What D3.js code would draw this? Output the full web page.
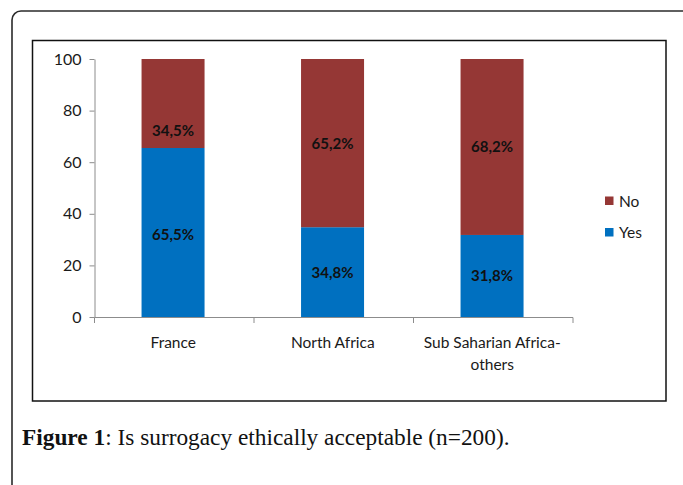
<!DOCTYPE html>
<html>
<head>
<meta charset="utf-8">
<script src="https://cdn.jsdelivr.net/npm/d3@7"></script>
<style>
  html, body { margin: 0; padding: 0; background: #fff; }
  svg { display: block; }
</style>
</head>
<body>
<svg id="chart" width="683" height="485"></svg>
<script>
// Survey answers by region of origin (percent of respondents)
const categories = ["France", "North Africa", "Sub Saharian Africa-others"];
const yesValues = [65.5, 34.8, 31.8];
const noValues = [34.5, 65.2, 68.2];
const yTicks = [0, 20, 40, 60, 80, 100];
const seriesNames = ["No", "Yes"];

const colors = { Yes: "#0070C0", No: "#953735" };
const font = "Lato, 'Open Sans', sans-serif";

const svg = d3.select("#chart");

// Outer page frame (rounded corner, runs off the right and bottom edges)
svg.append("rect")
  .attr("x", 12).attr("y", 11)
  .attr("width", 700).attr("height", 500)
  .attr("rx", 9).attr("ry", 9)
  .attr("fill", "none").attr("stroke", "#2b2b2b").attr("stroke-width", 1.6);

// Chart frame
svg.append("rect")
  .attr("x", 32.5).attr("y", 40.5)
  .attr("width", 633.5).attr("height", 360.5)
  .attr("fill", "#fff").attr("stroke", "#111").attr("stroke-width", 1.5);

const x = d3.scaleBand().domain(categories).range([94.5, 573]).padding(0);
const y = d3.scaleLinear().domain([0, 100]).range([317, 59]);
const barFrac = 0.395;

// Stacked data
const rows = categories.map((c, i) => ({ cat: c, Yes: yesValues[i], No: noValues[i] }));
const stack = d3.stack().keys(["Yes", "No"])(rows);

const g = svg.append("g");

stack.forEach(layer => {
  g.selectAll(null).data(layer).enter().append("rect")
    .attr("x", d => x(d.data.cat) + x.bandwidth() * (1 - barFrac) / 2 - 1.2)
    .attr("width", x.bandwidth() * barFrac)
    .attr("y", d => y(d[1]))
    .attr("height", d => y(d[0]) - y(d[1]))
    .attr("fill", colors[layer.key]);
});

// Y axis
const yAxis = d3.axisLeft(y).tickValues(yTicks).tickSize(5).tickSizeOuter(0).tickPadding(8);
const ya = svg.append("g").attr("transform", "translate(94.5,0)").call(yAxis);
ya.select(".domain").attr("stroke", "#8c8c8c");
ya.selectAll(".tick line").attr("stroke", "#8c8c8c");
ya.selectAll(".tick text")
  .attr("font-family", font).attr("font-size", 16).attr("fill", "#1a1a1a");

// X axis: baseline with ticks on band boundaries
svg.append("line")
  .attr("x1", x.range()[0]).attr("x2", x.range()[1])
  .attr("y1", y(0) + 0.5).attr("y2", y(0) + 0.5)
  .attr("stroke", "#8c8c8c");
const bounds = categories.map(c => x(c)).concat([x.range()[1]]);
svg.selectAll(null).data(bounds).enter().append("line")
  .attr("x1", d => d).attr("x2", d => d)
  .attr("y1", y(0) + 0.5).attr("y2", y(0) + 6)
  .attr("stroke", "#8c8c8c");

// Category labels (long one wraps after the hyphen)
categories.forEach(c => {
  const lines = c.length > 15 ? ["Sub Saharian Africa-", "others"] : [c];
  const t = svg.append("text")
    .attr("x", x(c) + x.bandwidth() / 2 - 1)
    .attr("y", 348)
    .attr("text-anchor", "middle")
    .attr("font-family", font).attr("font-size", 15.5).attr("fill", "#1a1a1a");
  lines.forEach((l, i) => t.append("tspan")
    .attr("x", x(c) + x.bandwidth() / 2 - 1)
    .attr("dy", i === 0 ? 0 : 22)
    .text(l));
});

// Value labels inside segments
const labelNudge = { "France|No": 27, "France|Yes": 2 };
stack.forEach(layer => {
  g.selectAll(null).data(layer).enter().append("text")
    .attr("x", d => x(d.data.cat) + x.bandwidth() / 2 - 1.2)
    .attr("y", d => (y(d[0]) + y(d[1])) / 2 + (labelNudge[d.data.cat + "|" + layer.key] || 0))
    .attr("dy", "0.36em")
    .attr("text-anchor", "middle")
    .attr("font-family", font).attr("font-weight", "bold").attr("font-size", 15)
    .attr("fill", "#111")
    .text(d => String(d.data[layer.key]).replace(".", ",") + "%");
});

// Legend
const legend = svg.append("g");
seriesNames.forEach((s, i) => {
  const ly = 201 + i * 31.5;
  legend.append("rect")
    .attr("x", 605).attr("y", ly - 4.5).attr("width", 8.5).attr("height", 8.5)
    .attr("fill", colors[s]);
  legend.append("text")
    .attr("x", 619).attr("y", ly).attr("dy", "0.36em")
    .attr("font-family", font).attr("font-size", 15.5).attr("fill", "#1a1a1a")
    .text(s);
});

// Caption
const cap = svg.append("text")
  .attr("x", 22).attr("y", 445)
  .attr("font-family", "'Liberation Serif', 'Times New Roman', serif")
  .attr("font-size", 20).attr("fill", "#111");
cap.append("tspan").attr("font-weight", "bold").text("Figure 1");
cap.append("tspan").text(": Is surrogacy ethically acceptable (n=200).");
const w = cap.node().getComputedTextLength();
cap.attr("font-size", 20 * 488 / w);
</script>
</body>
</html>
